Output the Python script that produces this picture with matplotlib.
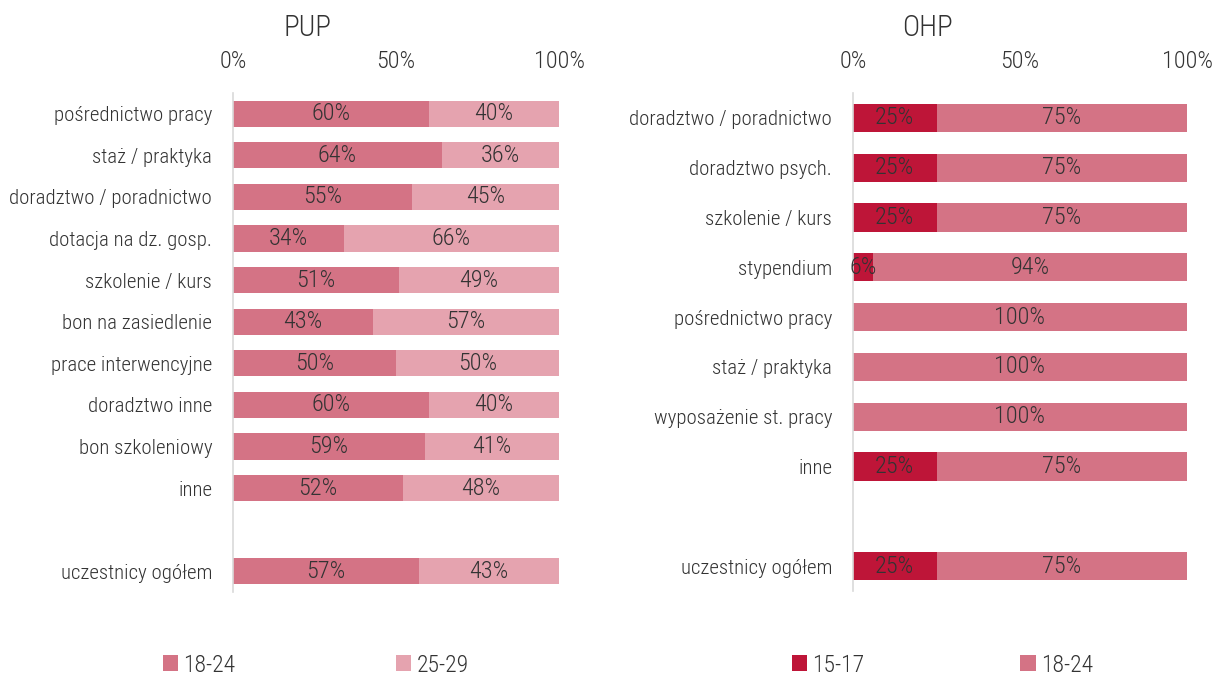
import matplotlib
matplotlib.use("Agg")
import matplotlib.pyplot as plt
import numpy as np

# ---- data ----
pup_categories = ["pośrednictwo pracy", "staż / praktyka", "doradztwo / poradnictwo",
                  "dotacja na dz. gosp.", "szkolenie / kurs", "bon na zasiedlenie",
                  "prace interwencyjne", "doradztwo inne", "bon szkoleniowy", "inne",
                  "", "uczestnicy ogółem"]
pup_18_24 = [60, 64, 55, 34, 51, 43, 50, 60, 59, 52, None, 57]
pup_25_29 = [40, 36, 45, 66, 49, 57, 50, 40, 41, 48, None, 43]

ohp_categories = ["doradztwo / poradnictwo", "doradztwo psych.", "szkolenie / kurs",
                  "stypendium", "pośrednictwo pracy", "staż / praktyka",
                  "wyposażenie st. pracy", "inne", "", "uczestnicy ogółem"]
ohp_15_17 = [25, 25, 25, 6, 0, 0, 0, 25, None, 25]
ohp_18_24 = [75, 75, 75, 94, 100, 100, 100, 75, None, 75]

x_ticks = [0, 50, 100]
x_ticklabels = ["0%", "50%", "100%"]

C_1517 = "#BE1538"
C_1824 = "#D47385"
C_2529 = "#E5A3AF"
TXT = "#333333"
FONT = "Roboto Condensed"

plt.rcParams["font.family"] = [FONT, "DejaVu Sans"]
plt.rcParams["font.weight"] = "light"

W, H = 1213, 677
fig = plt.figure(figsize=(W / 100, H / 100), dpi=100)

def px_axes(x0, x1, y0, y1):
    return fig.add_axes([x0 / W, 1 - y1 / H, (x1 - x0) / W, (y1 - y0) / H])

def draw_panel(ax, cats, s1, s2, c1, c2, n1, n2, height):
    pos = np.arange(len(cats))
    v1 = np.array([np.nan if v is None else v for v in s1], dtype=float)
    v2 = np.array([np.nan if v is None else v for v in s2], dtype=float)
    b1 = ax.barh(pos, np.nan_to_num(v1), height=height, color=c1, label=n1)
    b2 = ax.barh(pos, np.nan_to_num(v2), left=np.nan_to_num(v1), height=height, color=c2, label=n2)
    for i in range(len(cats)):
        if np.isnan(v1[i]):
            continue
        if v1[i] > 0:
            ax.text(v1[i] / 2, pos[i], f"{int(v1[i])}%", ha="center", va="center",
                    fontsize=17.5, color=TXT, fontweight="light")
        if v2[i] > 0:
            ax.text(v1[i] + v2[i] / 2, pos[i], f"{int(v2[i])}%", ha="center", va="center",
                    fontsize=17.5, color=TXT, fontweight="light")
    ax.set_ylim(len(cats) - 0.5, -0.5)
    ax.set_xlim(0, 100)
    ax.set_yticks(pos)
    ax.set_yticklabels(cats, fontsize=15, color=TXT, fontweight="light")
    ax.tick_params(axis="y", length=0, pad=15)
    ax.xaxis.tick_top()
    ax.set_xticks(x_ticks)
    ax.set_xticklabels(x_ticklabels, fontsize=17.5, color=TXT, fontweight="light")
    ax.tick_params(axis="x", length=0, pad=14.5)
    for s in ["top", "right", "bottom"]:
        ax.spines[s].set_visible(False)
    ax.spines["left"].set_color("#D9D9D9")
    ax.spines["left"].set_linewidth(1.2)
    return b1, b2

ax1 = px_axes(233, 559, 93, 592)
h1 = draw_panel(ax1, pup_categories, pup_18_24, pup_25_29, C_1824, C_2529, "18-24", "25-29", 0.63)
ax2 = px_axes(853, 1187, 93, 591)
h2 = draw_panel(ax2, ohp_categories, ohp_15_17, ohp_18_24, C_1517, C_1824, "15-17", "18-24", 0.57)

fig.text(307 / W, 1 - 28 / H, "PUP", ha="center", va="center", fontsize=21, color=TXT, fontweight="light")
fig.text(927 / W, 1 - 28 / H, "OHP", ha="center", va="center", fontsize=21, color=TXT, fontweight="light")

legkw = dict(ncol=2, frameon=False, handlelength=0.64, handleheight=0.64, handletextpad=0.22,
             borderpad=0, borderaxespad=0,
             prop={"family": FONT, "weight": "light", "size": 17}, labelcolor=TXT, loc="center left")
fig.legend(handles=list(h1), labels=["18-24", "25-29"], columnspacing=6.8,
           bbox_to_anchor=(163 / W, 1 - 665 / H), **legkw)
fig.legend(handles=list(h2), labels=["15-17", "18-24"], columnspacing=6.6,
           bbox_to_anchor=(792 / W, 1 - 665 / H), **legkw)

fig.savefig("out.png", dpi=100)
